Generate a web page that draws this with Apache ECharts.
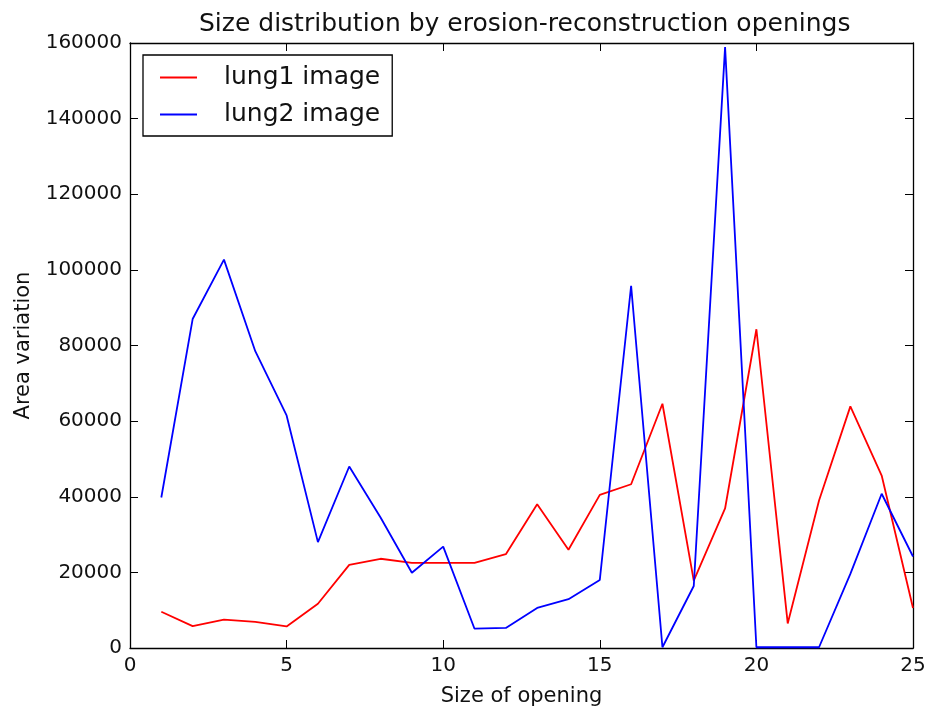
<!DOCTYPE html>
<html>
<head>
<meta charset="utf-8">
<script src="https://cdn.jsdelivr.net/npm/echarts@6/dist/echarts.min.js"></script>
<style>html,body{margin:0;padding:0;background:#fff}#c{width:926px;height:710px}</style>
</head>
<body>
<div id="c"></div>
<script>
const sizes = [1,2,3,4,5,6,7,8,9,10,11,12,13,14,15,16,17,18,19,20,21,22,23,24,25];
const lung1 = [9600,5800,7500,6900,5700,11700,22000,23600,22500,22500,22500,24800,38000,26000,40500,43300,64600,17800,36900,84300,6500,39000,63900,45600,10600];
const lung2 = [39800,87000,102700,78500,61500,28000,48000,34500,19900,26800,5100,5300,10600,12900,18000,95800,200,16400,158900,200,200,200,19600,40800,24200];
const xTicks = [0,5,10,15,20,25];
const yTicks = [0,20000,40000,60000,80000,100000,120000,140000,160000];

const FONT = 'DejaVu Sans';
const chart = echarts.init(document.getElementById('c'), null, {renderer:'canvas'});
const axisLine = {show:true, onZero:false, lineStyle:{color:'#000', width:1.3}};
const tick = {show:true, inside:true, length:8, lineStyle:{color:'#000', width:1}};
const fmt = v => String(v);
chart.setOption({
  animation:false,
  backgroundColor:'#fff',
  title:{text:'Size distribution by erosion-reconstruction openings', left:194, top:7,
    textStyle:{fontFamily:FONT, fontSize:25, fontWeight:'normal', color:'#111'}},
  grid:{left:130, right:13, top:43, bottom:62, outerBoundsMode:'none', containLabel:false},
  legend:{orient:'vertical', left:143, top:55, borderColor:'#000', borderWidth:1.3,
    padding:[10,12,9,17], itemWidth:37, itemHeight:2, itemGap:12, icon:'rect',
    textStyle:{fontFamily:FONT, fontSize:25, color:'#111', padding:[0,0,0,22]},
    data:['lung1 image','lung2 image']},
  xAxis:[
    {type:'value', min:xTicks[0], max:xTicks[xTicks.length-1], interval:5, position:'bottom',
     name:'Size of opening', nameLocation:'middle', nameGap:38,
     nameTextStyle:{fontFamily:FONT, fontSize:21, color:'#111'},
     axisLine, axisTick:tick, splitLine:{show:false},
     axisLabel:{fontFamily:FONT, fontSize:20, color:'#111', margin:8, formatter:fmt}},
    {type:'value', min:xTicks[0], max:xTicks[xTicks.length-1], interval:5, position:'top',
     axisLine, axisTick:tick, splitLine:{show:false}, axisLabel:{show:false}}
  ],
  yAxis:[
    {type:'value', min:yTicks[0], max:yTicks[yTicks.length-1], interval:20000, position:'left',
     name:'Area variation', nameLocation:'middle', nameGap:96,
     nameTextStyle:{fontFamily:FONT, fontSize:21, color:'#111'},
     axisLine, axisTick:tick, splitLine:{show:false},
     axisLabel:{fontFamily:FONT, fontSize:20, color:'#111', margin:8, formatter:fmt}},
    {type:'value', min:yTicks[0], max:yTicks[yTicks.length-1], interval:20000, position:'right',
     axisLine, axisTick:tick, splitLine:{show:false}, axisLabel:{show:false}}
  ],
  series:[
    {name:'lung1 image', type:'line', xAxisIndex:0, yAxisIndex:0, showSymbol:false, symbol:'none',
     color:'#ff0000', lineStyle:{color:'#ff0000', width:1.8},
     data: sizes.map((s,i)=>[s, lung1[i]])},
    {name:'lung2 image', type:'line', xAxisIndex:0, yAxisIndex:0, showSymbol:false, symbol:'none',
     color:'#0000ff', lineStyle:{color:'#0000ff', width:1.8},
     data: sizes.map((s,i)=>[s, lung2[i]])}
  ]
});
</script>
</body>
</html>
